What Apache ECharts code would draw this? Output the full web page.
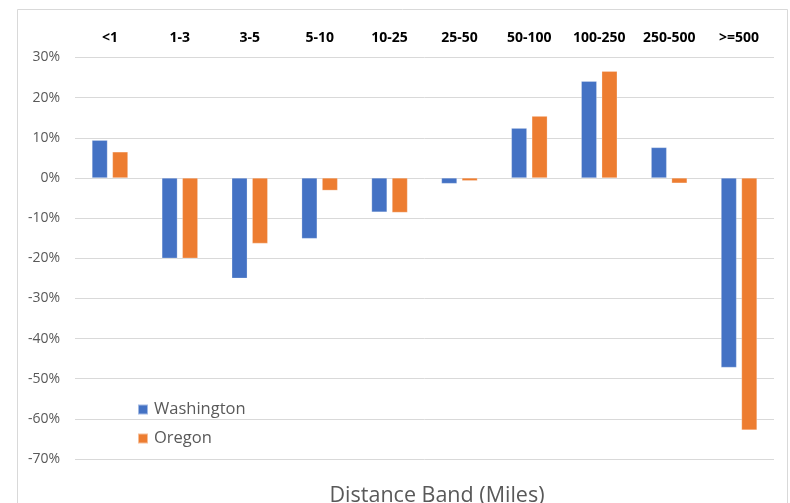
<!DOCTYPE html>
<html>
<head>
<meta charset="utf-8">
<script src="https://cdn.jsdelivr.net/npm/echarts@6/dist/echarts.min.js"></script>
<style>
html,body{margin:0;padding:0;background:#fff;}
#c{width:790px;height:503px;}
</style>
</head>
<body>
<div id="c"></div>
<script>
const categories = ['<1','1-3','3-5','5-10','10-25','25-50','50-100','100-250','250-500','>=500'];
const washington = [9.4, -20.0, -25.0, -15.1, -8.5, -1.4, 12.4, 24.1, 7.6, -47.2];
const oregon = [6.5, -20.0, -16.3, -3.1, -8.6, -0.7, 15.4, 26.6, -1.3, -62.8];
const yTicks = {min: -70, max: 30, step: 10};

const chart = echarts.init(document.getElementById('c'));
const font = '"Open Sans", "Liberation Sans", sans-serif';
chart.setOption({
  animation: false,
  backgroundColor: '#fff',
  graphic: [{
    type: 'polyline',
    shape: {points: [[17.5, 510], [17.5, 9.5], [787.5, 9.5], [787.5, 510]]},
    style: {stroke: '#D9D9D9', lineWidth: 1, fill: null},
    silent: true
  }],
  title: {
    text: 'Distance Band (Miles)',
    left: 432, top: 480,
    textAlign: 'center',
    textStyle: {fontFamily: font, fontSize: 21.5, fontWeight: 'normal', color: '#595959'}
  },
  legend: {
    orient: 'vertical',
    left: 132, top: 396,
    itemWidth: 10, itemHeight: 10, itemGap: 12,
    icon: 'rect',
    textStyle: {fontFamily: font, fontSize: 16.5, color: '#595959', padding: [0,0,0,1]},
    data: ['Washington', 'Oregon']
  },
  grid: {left: 75, right: 16, top: 57.5, bottom: 44, containLabel: false},
  xAxis: {
    type: 'category',
    position: 'top',
    data: categories,
    axisLine: {show: false},
    axisTick: {show: false},
    axisLabel: {fontFamily: font, fontSize: 14, fontWeight: 'bold', color: '#000', margin: 12, interval: 0}
  },
  yAxis: {
    type: 'value',
    min: yTicks.min, max: yTicks.max, interval: yTicks.step,
    axisLine: {show: false},
    axisTick: {show: false},
    axisLabel: {fontFamily: font, fontSize: 14, color: '#595959', margin: 15, formatter: '{value}%'},
    splitLine: {lineStyle: {color: '#D9D9D9', width: 1}}
  },
  series: [
    {name: 'Washington', type: 'bar', data: washington, barWidth: 15.5, barGap: '32%',
     itemStyle: {color: '#4472C4', borderColor: 'rgba(255,255,255,0.5)', borderWidth: 0.5}},
    {name: 'Oregon', type: 'bar', data: oregon, barWidth: 15.5, barGap: '32%',
     itemStyle: {color: '#ED7D31', borderColor: 'rgba(255,255,255,0.5)', borderWidth: 0.5}}
  ]
});
</script>
</body>
</html>
